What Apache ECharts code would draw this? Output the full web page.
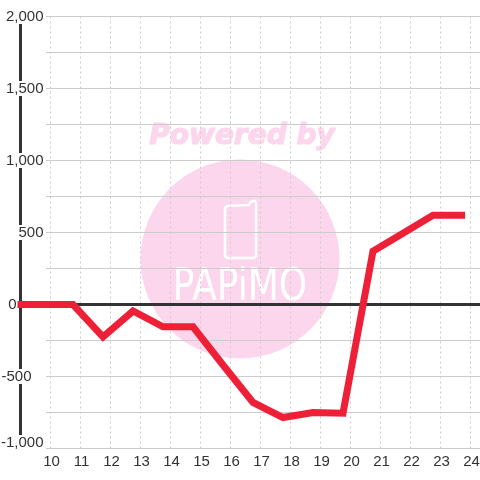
<!DOCTYPE html>
<html><head><meta charset="utf-8">
<style>html,body{margin:0;padding:0;background:#fff}#c{width:480px;height:480px}</style>
<script src="https://cdn.jsdelivr.net/npm/echarts@6/dist/echarts.min.js"></script>
</head><body><div id="c"></div>
<script>
const hours = [8.9, 10.75, 11.75, 12.75, 13.75, 14.75, 15.75, 16.75, 17.75, 18.75, 19.75, 20.75, 21.75, 22.75, 23.82];
const values = [0, 0, -225, -45, -155, -155, -420, -680, -785, -750, -755, 370, 495, 620, 620];
const yMin = -1000, yMax = 2000;
const xMin = 9, xMax = 25;
const dark = '#333333', red = '#ee2038', grid = '#cccccc', text = '#333333', pink = '#fcd6ec';
const font = '"Liberation Sans", Arial, sans-serif';

const chart = echarts.init(document.getElementById('c'), null, {renderer: 'canvas'});
chart.setOption({
  animation: false,
  backgroundColor: '#ffffff',
  grid: [
    {left: 46, right: 0, top: 16.5, bottom: 31.5, outerBoundsMode: 'none'},
    {left: 20.5, right: -20.5, top: 16.5, bottom: 31.5, outerBoundsMode: 'none'}
  ],
  xAxis: [
    {type: 'value', gridIndex: 0, min: xMin, max: xMax, show: false},
    {type: 'value', gridIndex: 1, min: xMin, max: xMax, interval: 1,
     axisLine: {show: false}, axisTick: {show: false},
     splitLine: {show: true, lineStyle: {color: grid, type: [2, 3], width: 1}},
     axisLabel: {color: text, fontFamily: font, fontSize: 15, margin: 6, hideOverlap: false, padding: [0, 0, 0, 2],
       formatter: v => (v >= 10 && v <= 24) ? String(v) : ''}}
  ],
  yAxis: [
    {type: 'value', gridIndex: 0, min: yMin, max: yMax, interval: 250,
     axisLine: {show: false}, axisTick: {show: false}, axisLabel: {show: false},
     splitLine: {show: true, lineStyle: {color: grid, width: 1}}},
    {type: 'value', gridIndex: 1, min: yMin, max: yMax, interval: 500,
     axisLine: {show: true, onZero: false, lineStyle: {color: dark, width: 3}},
     axisTick: {show: false}, axisLabel: {show: false}, splitLine: {show: false}},
    {type: 'value', gridIndex: 1, min: yMin, max: yMax, interval: 500, position: 'left', offset: -23, z: 20,
     axisLine: {show: false}, axisTick: {show: false}, splitLine: {show: false},
     axisLabel: {margin: 0, fontFamily: font, fontSize: 15, color: text,
       formatter: v => {
         const s = v.toLocaleString('en-US');
         if (v === 0) return '{z|' + s + '}';
         if (v === -500) return '{n|' + s + '}';
         if (v === yMin) return '{m|' + s + '}';
         return '{a|' + s + '}';
       },
       rich: {
         a: {fontFamily: font, fontSize: 15, color: text, backgroundColor: '#fff', lineHeight: 15},
         n: {fontFamily: font, fontSize: 15, color: text, backgroundColor: '#fff', lineHeight: 15, padding: [0, 12, 0, 0]},
         m: {fontFamily: font, fontSize: 15, color: text, backgroundColor: '#fff', lineHeight: 15, padding: [0, 0, 12, 0]},
         z: {fontFamily: font, fontSize: 15, color: text, lineHeight: 15, padding: [0, 27, 0, 0]}
       }}}
  ],
  series: [
    {type: 'line', xAxisIndex: 1, yAxisIndex: 1, z: 3, symbol: 'none', silent: true,
     lineStyle: {color: dark, width: 3},
     data: [[xMin, 0], [xMax, 0]]},
    {type: 'line', xAxisIndex: 1, yAxisIndex: 1, z: 4, symbol: 'none', clip: false,
     lineStyle: {color: red, width: 7, join: 'miter', cap: 'butt'},
     data: hours.map((h, i) => [h, values[i]])}
  ],
  graphic: {elements: [
    {type: 'circle', z: -10, silent: true, shape: {cx: 240, cy: 259, r: 99.5}, style: {fill: pink}},
    {type: 'text', z: -10, silent: true, style: {x: 242, y: 137, text: 'Powered by', align: 'center', verticalAlign: 'middle',
      fill: pink, stroke: pink, lineWidth: 1.2, font: 'italic bold 28px "DejaVu Sans", sans-serif'}},
    {type: 'polyline', z: -9, silent: true, shape: {points: [[249,204],[252,201],[255,201],[256,203],[256,256],[254,258],[227,258],[225,256],[225,208],[227,206],[249,205],[249,204]]},
      style: {stroke: '#fff', lineWidth: 2.5, fill: null}},
    {type: 'text', z: -9, silent: true, x: 240, y: 289, scaleY: 1.22, style: {x: 0, y: 0, text: 'PAPiMO', align: 'center', verticalAlign: 'middle',
      fill: '#fff', stroke: pink, lineWidth: 0.8, font: '36px "DejaVu Sans", sans-serif'}}
  ]}
});
</script></body></html>
